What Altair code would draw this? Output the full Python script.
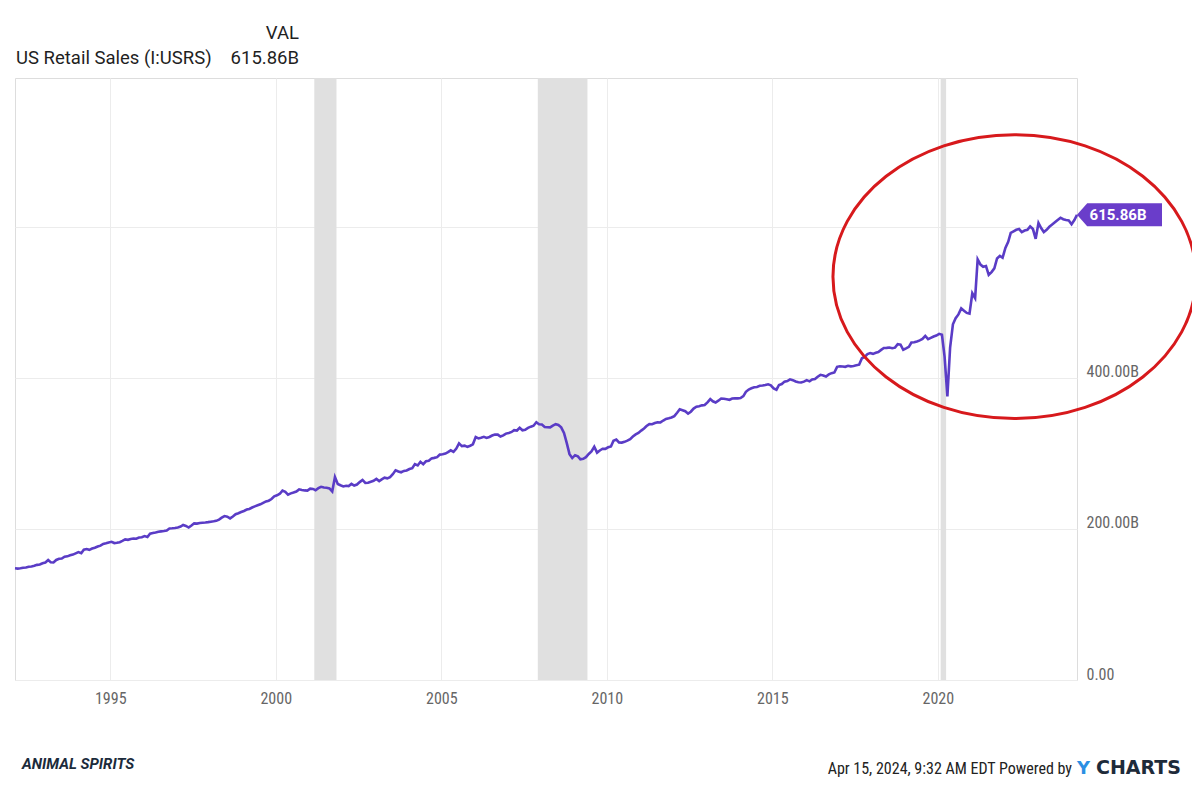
import altair as alt
import pandas as pd

# ---------------- data (billions USD, monthly, Feb 1992 .. Mar 2024) ----------------
v1992 = [147.9, 147.5, 148.0, 148.6, 149.0, 150.0, 150.3, 151.2, 152.4, 153.0, 154.6]
v1993 = [155.6, 158.8, 156.0, 155.6, 158.9, 160.5, 160.8, 163.2, 163.7, 165.1, 166.0, 167.6]
v1994 = [169.3, 167.9, 172.5, 173.4, 172.3, 174.0, 175.1, 176.8, 177.9, 180.2, 181.0, 182.1]
v1995 = [182.9, 181.3, 181.6, 182.5, 184.1, 186.1, 185.6, 186.8, 187.4, 187.0, 188.6, 189.1]
v1996 = [190.6, 189.4, 193.8, 194.6, 195.2, 196.2, 196.8, 197.3, 198.0, 200.7, 200.9, 201.3]
v1997 = [202.0, 203.1, 205.2, 203.9, 201.8, 204.5, 207.4, 207.1, 207.9, 208.2, 208.5, 209.0]
v1998 = [209.6, 210.1, 210.7, 212.4, 214.9, 217.0, 216.2, 214.0, 216.5, 219.5, 220.8, 222.4]
v1999 = [223.8, 225.6, 226.5, 228.4, 229.9, 231.3, 232.6, 234.6, 236.5, 237.4, 239.6, 243.2]
v2000 = [244.5, 246.6, 250.8, 249.0, 245.4, 247.1, 248.2, 249.5, 252.4, 251.6, 251.0, 250.8]
v2001 = [253.4, 253.0, 251.3, 254.0, 255.8, 254.9, 254.6, 253.6, 249.6, 268.6, 259.5, 257.8]
v2002 = [256.3, 257.2, 256.8, 259.6, 257.4, 258.8, 262.0, 264.8, 260.8, 261.2, 262.5, 263.8]
v2003 = [266.2, 263.4, 265.7, 267.8, 267.0, 268.6, 272.5, 277.6, 276.1, 275.0, 276.8, 277.4]
v2004 = [279.3, 280.5, 285.8, 284.1, 288.9, 285.7, 289.6, 290.2, 293.4, 294.1, 295.0, 298.4]
v2005 = [298.8, 299.8, 301.6, 304.1, 302.1, 306.4, 313.2, 309.6, 310.3, 308.6, 310.2, 312.0]
v2006 = [321.6, 319.8, 320.7, 321.9, 320.5, 321.8, 323.7, 325.0, 324.9, 322.3, 323.8, 326.2]
v2007 = [327.1, 328.4, 330.8, 330.3, 333.9, 330.6, 331.2, 333.8, 335.4, 336.6, 341.2, 338.6]
v2008 = [338.2, 335.0, 334.6, 334.4, 336.8, 338.7, 337.6, 334.5, 327.0, 314.0, 299.0, 293.8]
v2009 = [297.6, 296.0, 292.1, 292.8, 295.0, 299.2, 302.5, 308.8, 301.0, 303.8, 306.2, 306.0]
v2010 = [308.1, 309.2, 316.8, 318.4, 314.6, 314.3, 315.3, 316.9, 318.9, 322.3, 325.1, 327.0]
v2011 = [330.2, 333.0, 336.2, 338.8, 338.6, 340.2, 341.2, 341.0, 343.5, 345.6, 346.5, 347.5]
v2012 = [349.4, 353.8, 358.4, 357.2, 355.8, 352.6, 355.2, 359.4, 361.8, 362.5, 363.6, 364.0]
v2013 = [367.5, 371.9, 369.0, 367.4, 369.8, 372.6, 372.4, 371.8, 371.0, 372.6, 373.1, 372.9]
v2014 = [373.3, 375.9, 381.5, 384.6, 386.2, 387.5, 388.0, 389.5, 389.9, 390.6, 391.5, 390.2]
v2015 = [386.0, 384.3, 390.6, 391.8, 395.0, 395.8, 398.1, 397.0, 395.2, 394.3, 393.9, 395.0]
v2016 = [397.0, 395.4, 397.9, 398.4, 401.5, 404.0, 403.2, 401.8, 404.6, 406.2, 407.1, 414.6]
v2017 = [415.3, 415.0, 414.6, 416.0, 415.2, 415.8, 416.6, 417.4, 425.9, 427.8, 431.6, 432.9]
v2018 = [431.8, 433.3, 434.2, 437.0, 439.5, 439.7, 440.2, 439.2, 440.0, 444.6, 444.0, 437.2]
v2019 = [439.0, 441.0, 446.8, 447.2, 448.2, 449.6, 451.5, 455.5, 451.3, 453.0, 454.8, 456.0]
v2020 = [458.3, 457.0, 428.0, 375.3, 440.0, 471.0, 479.0, 484.0, 492.0, 489.0, 486.0, 485.0]
v2021 = [512.0, 505.5, 557.0, 550.0, 547.0, 548.0, 536.4, 540.0, 545.0, 558.0, 561.5, 559.0]
v2022 = [572.0, 580.0, 592.0, 594.0, 596.0, 597.0, 593.0, 595.0, 596.0, 600.4, 597.0, 584.0]
v2023 = [605.0, 598.0, 593.0, 596.0, 600.0, 603.0, 606.0, 609.0, 612.0, 610.0, 609.0, 608.5]
v2024 = [603.5, 609.0, 615.86]

yearly = [v1992, v1993, v1994, v1995, v1996, v1997, v1998, v1999, v2000, v2001,
          v2002, v2003, v2004, v2005, v2006, v2007, v2008, v2009, v2010, v2011,
          v2012, v2013, v2014, v2015, v2016, v2017, v2018, v2019, v2020, v2021,
          v2022, v2023, v2024]

dates, values = [], []
for i, vals in enumerate(yearly):
    year = 1992 + i
    first_month = 2 if year == 1992 else 1
    for j, v in enumerate(vals):
        dates.append(f"{year}-{first_month + j:02d}-15")
        values.append(v)

series = pd.DataFrame({"date": dates, "value": values})

rec_start = ["2001-03-01", "2007-12-01", "2020-02-01"]
rec_end = ["2001-11-01", "2009-06-01", "2020-04-01"]
recessions = pd.DataFrame({"start": rec_start, "end": rec_end})

tick_years = [1995, 2000, 2005, 2010, 2015, 2020]
y_ticks = [0, 200, 400, 600]

series_name = "US Retail Sales (I:USRS)"
last_label = "615.86B"
header_col = "VAL"
footer_text = "Apr 15, 2024, 9:32 AM EDT Powered by"
brand_left = "ANIMAL SPIRITS"
brand_y = "Y"
brand_rest = "CHARTS"

# ---------------- styling ----------------
LINE = "#5a3cc6"
TAG = "#6a3dca"
GRID = "#ececec"
FRAME = "#dcdcdc"
LABEL = "#666666"
COND = "Liberation Sans Narrow, Roboto Condensed, Roboto, sans-serif"
W, H = 1062, 602

xscale = alt.Scale(
    type="utc",
    domain=[alt.DateTime(year=1992, month=2, date=15, utc=True),
            alt.DateTime(year=2024, month=3, date=15, utc=True)],
)
yscale = alt.Scale(domain=[0, 797], nice=False, zero=True)

xaxis = alt.Axis(
    values=[alt.DateTime(year=y, month=1, date=1, utc=True) for y in tick_years],
    format="%Y", grid=True, gridColor=GRID, ticks=False, domain=False,
    labelPadding=10, labelFont=COND, labelFontSize=16, labelColor=LABEL,
    labelFlush=False, labelOverlap=False, title=None,
)
yaxis = alt.Axis(
    orient="right", values=y_ticks, grid=True, gridColor=GRID, ticks=False,
    domain=False, labelPadding=9, labelFont=COND, labelFontSize=16,
    labelColor=LABEL, labelAlign="left", labelBaseline="alphabetic",
    labelOffset=-1, title=None,
    labelExpr="datum.value == 0 ? '0.00' : (datum.value == 600 ? '' : format(datum.value, '.2f') + 'B')",
)

bands = alt.Chart(recessions).mark_rect(color="#e0e0e0").encode(
    x=alt.X("start:T", scale=xscale, axis=xaxis),
    x2="end:T",
)

line = alt.Chart(series).mark_line(color=LINE, strokeWidth=2.6).encode(
    x=alt.X("date:T", scale=xscale, axis=xaxis),
    y=alt.Y("value:Q", scale=yscale, axis=yaxis),
)

# red highlight ellipse (annotation anchored in data space)
ellipse_df = pd.DataFrame({"date": ["2022-04-25"], "value": [534.0]})
ellipse = alt.Chart(ellipse_df).mark_point(
    shape="M-1,0 A1,0.782 0 1,1 1,0 A1,0.782 0 1,1 -1,0 Z",
    size=363 * 363, filled=False, stroke="#d7191c", strokeWidth=3, opacity=1,
).encode(x=alt.X("date:T", scale=xscale), y=alt.Y("value:Q", scale=yscale))

last_df = series.tail(1).assign(label=last_label)
tag = alt.Chart(last_df).mark_point(
    shape="M0,0 L0.24,-0.27 L2,-0.27 L2,0.27 L0.24,0.27 Z",
    size=85 * 85, filled=True, fill=TAG, strokeWidth=0, opacity=1,
).encode(x=alt.X("date:T", scale=xscale), y=alt.Y("value:Q", scale=yscale))
tag_text = alt.Chart(last_df).mark_text(
    dx=41, align="center", baseline="middle", color="white",
    font="Roboto", fontWeight="bold", fontSize=15,
).encode(x=alt.X("date:T", scale=xscale), y=alt.Y("value:Q", scale=yscale), text="label:N")


def text_layer(txt, x, y, align="left", size=18.5, color="#1f1f1f", font="Roboto",
               weight="normal", style="normal"):
    return alt.Chart(pd.DataFrame({"t": [txt]})).mark_text(
        align=align, baseline="alphabetic", fontSize=size, color=color,
        font=font, fontWeight=weight, fontStyle=style,
    ).encode(x=alt.value(x), y=alt.value(y), text="t:N")


texts = [
    text_layer(header_col, 284, -39, align="right"),
    text_layer(series_name, 1, -14),
    text_layer(last_label, 284, -14, align="right"),
    text_layer(brand_left, 7, 691, size=15, color="#1b2b3b",
               font="Roboto", weight="bold", style="italic"),
    text_layer(footer_text, 1057, 696, align="right", size=16, color="#222222", font=COND),
    text_layer(brand_y, 1062, 696, size=18, color="#2b8fe3", font="DejaVu Sans", weight="bold"),
    text_layer(brand_rest, 1081, 696, size=19, color="#1e2b3a", font="DejaVu Sans", weight="bold"),
]

chart = alt.layer(bands, line, ellipse, tag, tag_text, *texts).properties(
    width=W, height=H,
    padding={"left": 7, "top": 70, "right": 115, "bottom": 98},
    autosize=alt.AutoSizeParams(type="none"),
).configure_view(stroke=FRAME, strokeWidth=1).configure(background="white")

chart.save("out.html", embed_options={"renderer": "svg", "actions": False})
